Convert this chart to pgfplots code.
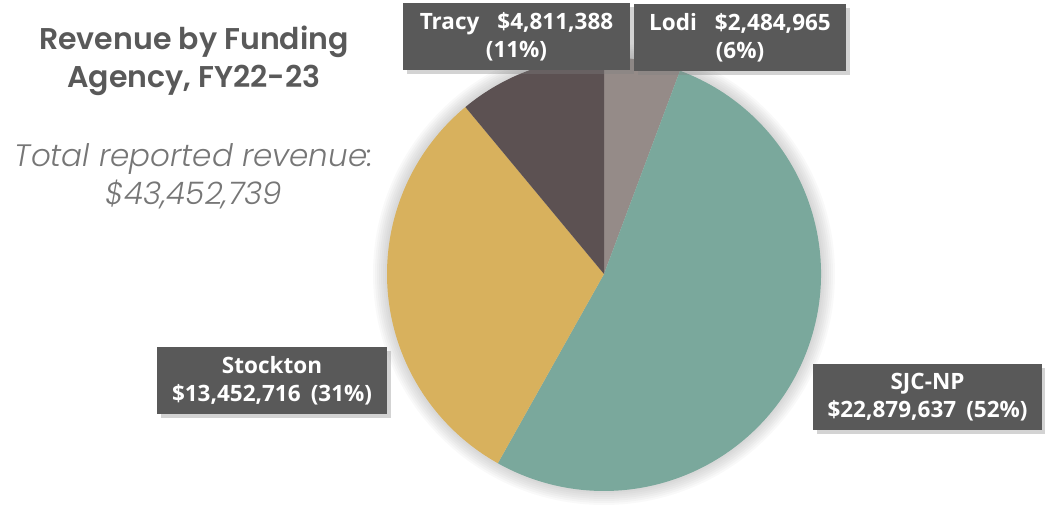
\documentclass[border=0pt]{standalone}
\usepackage{pgfplots}
\pgfplotsset{compat=1.18}
\usepackage{pgfplotstable}
\usepackage{fontspec}
\usetikzlibrary{shadows}
\setmainfont{Open Sans}
\newfontfamily\titlefont{Poppins SemiBold}
\newfontfamily\subfont{Poppins Light Italic}

\definecolor{lodi}{HTML}{958B88}
\definecolor{sjc}{HTML}{7AA89C}
\definecolor{stock}{HTML}{D8B15D}
\definecolor{tracy}{HTML}{5C5152}
\definecolor{boxgray}{HTML}{595959}
\definecolor{titlegray}{HTML}{595959}
\definecolor{subgray}{HTML}{767676}

\tikzset{lbl/.style={fill=boxgray, text=white, font=\fontsize{22.5}{28}\selectfont\bfseries,
    align=center, inner sep=0pt,
    drop shadow={shadow xshift=4pt, shadow yshift=-4pt, opacity=0.35}}}

% revenue by funding agency, clockwise from 12 o'clock
\pgfplotstableread{
name value
Lodi 2484965
SJC-NP 22879637
Stockton 13452716
Tracy 4811388
}\revtable

\begin{document}
\begin{tikzpicture}
\path[use as bounding box] (0,0) rectangle (1045pt,508pt);
% slice boundaries (degrees) from the table
\begingroup
\pgfkeys{/pgf/fpu=true,/pgf/fpu/output format=fixed}
\pgfplotstablegetelem{0}{value}\of\revtable \pgfmathsetmacro\va{\pgfplotsretval}
\pgfplotstablegetelem{1}{value}\of\revtable \pgfmathsetmacro\vb{\pgfplotsretval}
\pgfplotstablegetelem{2}{value}\of\revtable \pgfmathsetmacro\vc{\pgfplotsretval}
\pgfplotstablegetelem{3}{value}\of\revtable \pgfmathsetmacro\vd{\pgfplotsretval}
\pgfmathsetmacro\tot{\va+\vb+\vc+\vd}
\pgfmathsetmacro\a{90-360*\va/\tot}\xdef\angA{\a}
\pgfmathsetmacro\a{\angA-360*\vb/\tot}\xdef\angB{\a}
\pgfmathsetmacro\a{\angB-360*\vc/\tot}\xdef\angC{\a}
\endgroup
\begin{axis}[
  width=1045pt, height=508pt, scale only axis,
  xmin=0, xmax=1045, ymin=0, ymax=508,
  hide axis, clip=false,
]
% soft glow around the pie
\pgfplotsinvokeforeach{2,4,6,8,10,12,14}{
  \fill[black, opacity=0.025] (axis cs:604,234) circle[radius=217pt+#1pt];
}
\fill[lodi]  (axis cs:604,234) -- ++(90:217pt) arc[start angle=90, end angle=\angA, radius=217pt] -- cycle;
\fill[sjc]   (axis cs:604,234) -- ++(\angA:217pt) arc[start angle=\angA, end angle=\angB, radius=217pt] -- cycle;
\fill[stock] (axis cs:604,234) -- ++(\angB:217pt) arc[start angle=\angB, end angle=\angC, radius=217pt] -- cycle;
\fill[tracy] (axis cs:604,234) -- ++(\angC:217pt) arc[start angle=\angC, end angle=-270, radius=217pt] -- cycle;

% data labels
\node[lbl, minimum width=227pt, minimum height=67pt] at (axis cs:516.5,471.5)
  {Tracy\hspace{0.8em}\$4,811,388\\(11\%)};
\node[lbl, minimum width=212pt, minimum height=67pt] at (axis cs:740,470.5)
  {Lodi\hspace{0.8em}\$2,484,965\\(6\%)};
\node[lbl, minimum width=230pt, minimum height=67pt] at (axis cs:272,127.5)
  {Stockton\\\$13,452,716\hspace{0.45em}(31\%)};
\node[lbl, minimum width=229pt, minimum height=66pt] at (axis cs:927.5,111)
  {SJC-NP\\\$22,879,637\hspace{0.45em}(52\%)};

% title and total
\node[anchor=base, text=titlegray, font=\titlefont\fontsize{30}{39}\selectfont]
  at (axis cs:194,458) {Revenue by Funding};
\node[anchor=base, text=titlegray, font=\titlefont\fontsize{30}{39}\selectfont]
  at (axis cs:194,420) {Agency, FY22-23};
\node[anchor=base, text=subgray, font=\subfont\fontsize{31}{38}\selectfont]
  at (axis cs:194,341) {Total reported revenue:};
\node[anchor=base, text=subgray, font=\subfont\fontsize{31}{38}\selectfont]
  at (axis cs:194,303) {\$43,452,739};
\end{axis}
\end{tikzpicture}
\end{document}
